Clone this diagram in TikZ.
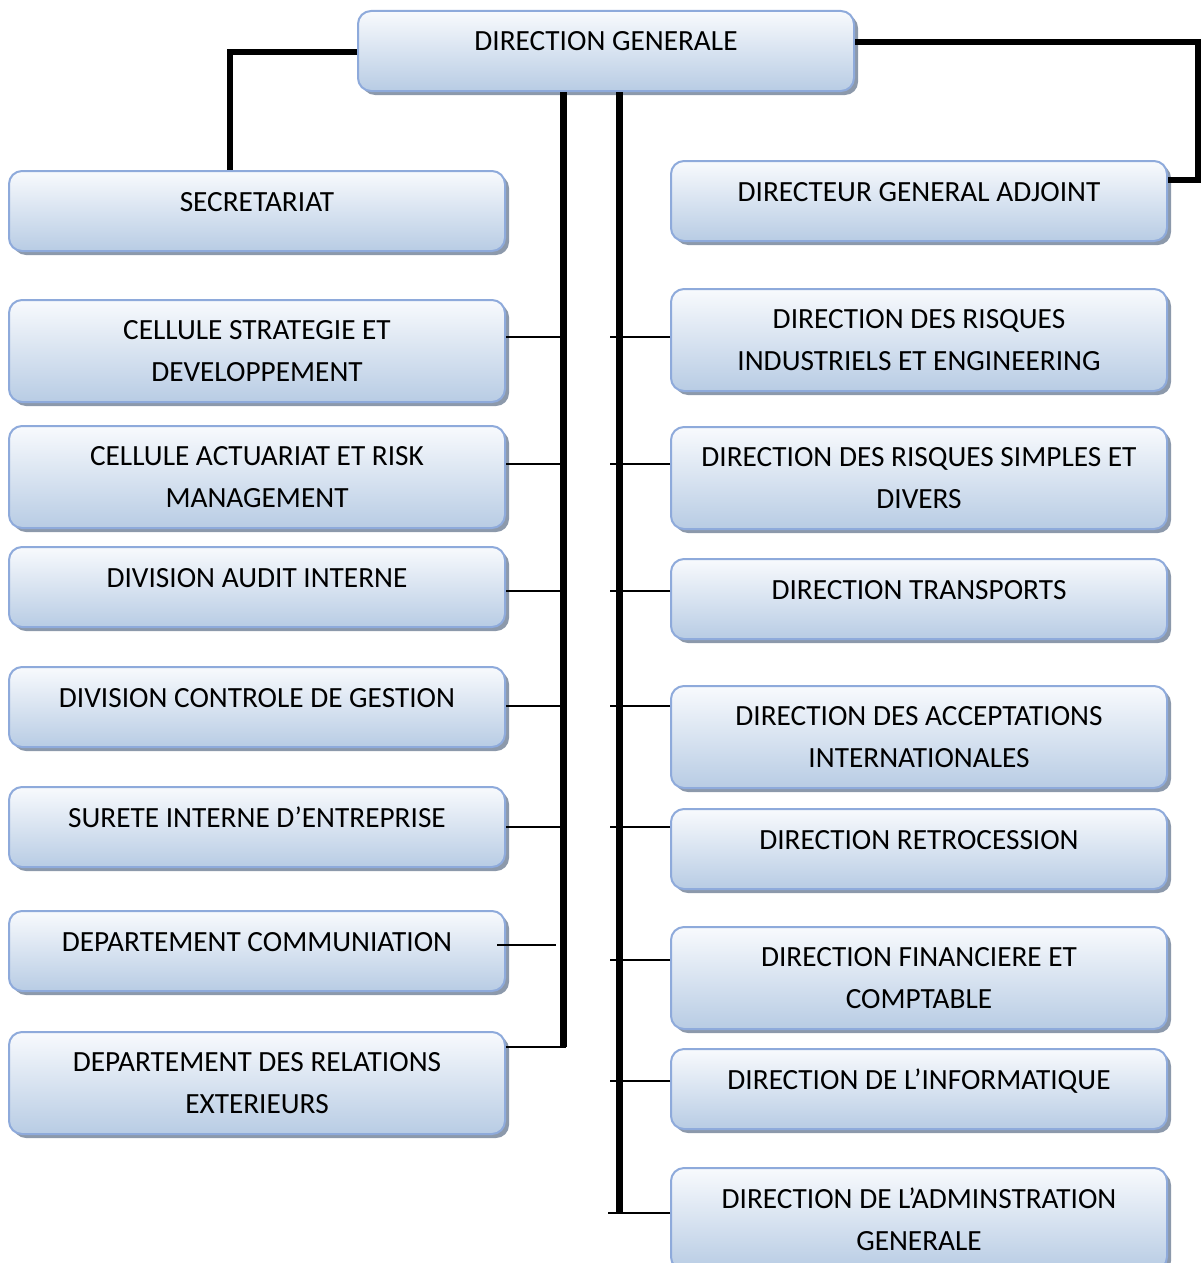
\documentclass[tikz,border=0pt]{standalone}
\usepackage{fontspec}
\setmainfont{Carlito}
\usetikzlibrary{shadows}
\definecolor{bxborder}{HTML}{8EAADB}
\definecolor{bxtop}{HTML}{F8FAFD}
\definecolor{bxbot}{HTML}{B8CCE4}
\definecolor{bxshadow}{HTML}{8C99AB}
\begin{document}
\begin{tikzpicture}[x=1pt,y=-1pt,
 bx/.style={draw=bxborder, line width=2pt, rounded corners=13pt, top color=bxtop, bottom color=bxbot,
   minimum width=496pt, align=center, font=\fontsize{29.3}{42}\selectfont, inner sep=0pt,
   drop shadow={shadow xshift=4pt, shadow yshift=-4pt, fill=bxshadow, opacity=1}},
 one/.style={bx, minimum height=80pt, text height=20pt, text depth=20pt},
 two/.style={bx, minimum height=102pt},
 trunk/.style={line width=7pt},
 thk/.style={line width=6pt},
 br/.style={line width=1.6pt}]
\useasboundingbox (0,0) rectangle (1201,1263);
% boxes
\node[one] (dg) at (606,51) {DIRECTION GENERALE};
\node[one] (sec) at (257,211) {SECRETARIAT};
\node[two] (cs) at (257,351) {CELLULE STRATEGIE ET\\DEVELOPPEMENT};
\node[two] (ca) at (257,477) {CELLULE ACTUARIAT ET RISK\\MANAGEMENT};
\node[one] (da) at (257,587) {DIVISION AUDIT INTERNE};
\node[one] (dc) at (257,707) {DIVISION CONTROLE DE GESTION};
\node[one] (su) at (257,827) {SURETE INTERNE D’ENTREPRISE};
\node[one] (dco) at (257,951) {DEPARTEMENT COMMUNIATION};
\node[two] (dr) at (257,1083) {DEPARTEMENT DES RELATIONS\\EXTERIEURS};
\node[one] (dga) at (919,201) {DIRECTEUR GENERAL ADJOINT};
\node[two] (ri) at (919,340) {DIRECTION DES RISQUES\\INDUSTRIELS ET ENGINEERING};
\node[two] (rs) at (919,478) {DIRECTION DES RISQUES SIMPLES ET\\DIVERS};
\node[one] (tr) at (919,599) {DIRECTION TRANSPORTS};
\node[two] (ac) at (919,737) {DIRECTION DES ACCEPTATIONS\\INTERNATIONALES};
\node[one] (re) at (919,849) {DIRECTION RETROCESSION};
\node[two] (fi) at (919,978) {DIRECTION FINANCIERE ET\\COMPTABLE};
\node[one] (in) at (919,1089) {DIRECTION DE L’INFORMATIQUE};
\node[two] (ad) at (919,1219) {DIRECTION DE L’ADMINSTRATION\\GENERALE};
% helper coordinates
\coordinate (sl) at (230,0);
\coordinate (sr) at (1198,0);
\coordinate (lt) at (563,0);
\coordinate (rt) at (619,0);
% top connectors
\draw[thk] ([yshift=-1pt]dg.west) -| (sl |- sec.north);
\draw[thk] ([yshift=9pt]dg.east) -| ([yshift=21pt]dga.east -| sr) -- ([yshift=21pt]dga.east);
% trunks
\draw[trunk] (lt |- dg.south) -- ([yshift=36pt]dr.east -| lt);
\draw[trunk] (rt |- dg.south) -- ([yshift=5pt]ad.west -| rt);
% left branches
\draw[br] ([yshift=14pt]cs.east) -- ++(57,0);
\draw[br] ([yshift=13pt]ca.east) -- ++(57,0);
\draw[br] ([yshift=-4pt]da.east) -- ++(57,0);
\draw[br] ([yshift=1pt]dc.east) -- ++(57,0);
\draw[br] (su.east) -- ++(57,0);
\draw[br] ([xshift=-9pt,yshift=6pt]dco.east) -- ++(59,0);
\draw[br] ([yshift=36pt]dr.east) -- ++(60,0);
% right branches
\draw[br] ([yshift=3pt]ri.west) -- ++(-60,0);
\draw[br] ([yshift=14pt]rs.west) -- ++(-60,0);
\draw[br] ([yshift=8pt]tr.west) -- ++(-60,0);
\draw[br] ([yshift=31pt]ac.west) -- ++(-60,0);
\draw[br] ([yshift=22pt]re.west) -- ++(-60,0);
\draw[br] ([yshift=18pt]fi.west) -- ++(-60,0);
\draw[br] ([yshift=8pt]in.west) -- ++(-60,0);
\draw[line width=2.2pt] ([yshift=6pt]ad.west) -- ++(-62,0);
\end{tikzpicture}
\end{document}
